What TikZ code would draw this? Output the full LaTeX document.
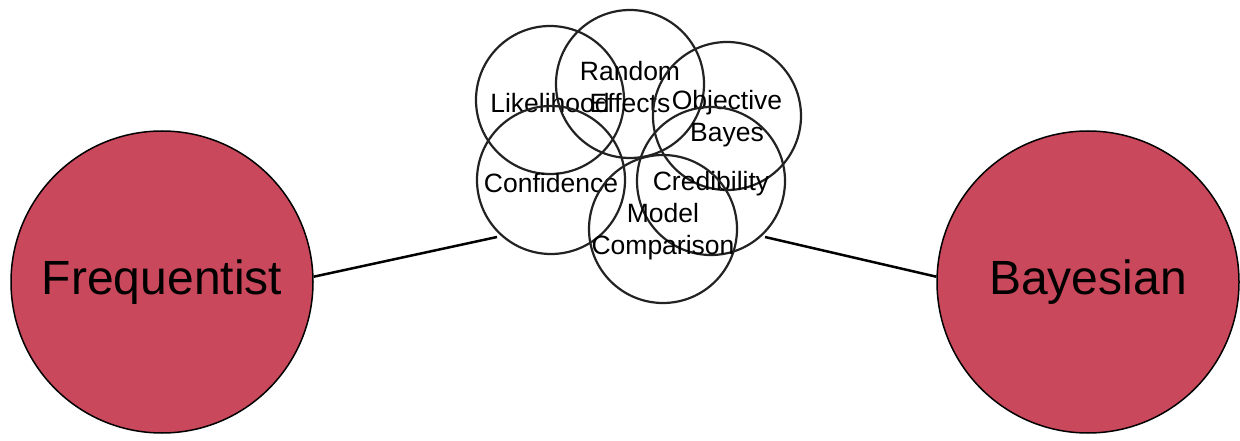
\documentclass[tikz,border=0pt]{standalone}
\usepackage{fontspec}
\setmainfont{Liberation Sans}
\definecolor{camp}{RGB}{201,72,91}
\definecolor{ring}{RGB}{34,34,34}
\tikzset{
  camp/.style={circle, draw=black, line width=1.5pt, fill=camp, minimum size=302pt, inner sep=0pt, font=\fontsize{48}{53}\selectfont},
  idea/.style={circle, draw=ring, line width=2.2pt, minimum size=148pt, inner sep=0pt},
  ideatext/.style={align=center, font=\fontsize{26.5}{32}\selectfont, inner sep=0pt, yshift=-3pt},
  link/.style={draw=black, line width=2.5pt}
}
\begin{document}
\begin{tikzpicture}[x=1pt,y=-1pt]
\useasboundingbox (0,0) rectangle (1240,441);
\node[camp] (F) at (162,282) {Frequentist};
\node[camp] (B) at (1088,282) {Bayesian};
\node[idea, label={[ideatext]center:Likelihood}] (L) at (550,100) {};
\node[idea, label={[ideatext]center:Random\\Effects}] (RE) at (630,84) {};
\node[idea, label={[ideatext]center:Objective\\Bayes}] (OB) at (727,116) {};
\node[idea, label={[ideatext]center:Confidence}] (C) at (551,180) {};
\node[idea, label={[ideatext]center:Credibility}] (Cr) at (711,181) {};
\node[idea, label={[ideatext]center:Model\\Comparison}] (MC) at (663,229) {};
\coordinate (lc) at (497,237);
\coordinate (rc) at (765,237);
\draw[link] (F.2) -- (lc);
\draw[link] (rc) -- (B.178);
\end{tikzpicture}
\end{document}
